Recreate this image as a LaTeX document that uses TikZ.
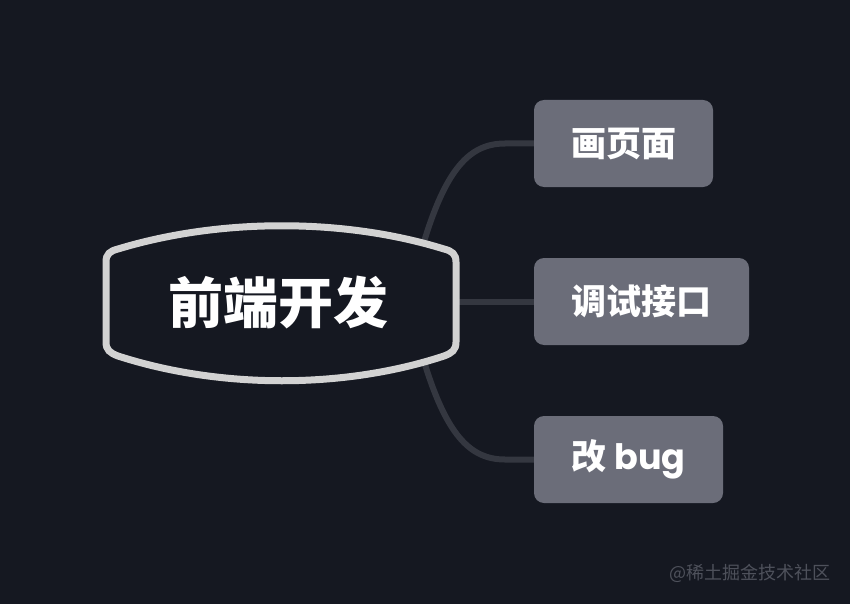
\documentclass[tikz,border=0pt]{standalone}
\usepackage{fontspec}
\newfontfamily\cjk{Noto Sans CJK SC}
\newfontfamily\pop{Poppins}
\definecolor{bg}{HTML}{151821}
\definecolor{boxfill}{HTML}{6B6D79}
\definecolor{conn}{HTML}{343740}
\definecolor{rim}{HTML}{D2D2D2}
\definecolor{wm}{HTML}{4E515B}
\tikzset{
  child/.style={fill=boxfill, rounded corners=10pt, minimum height=87pt, inner sep=0pt,
    text=white, font=\cjk\bfseries\fontsize{35}{40}\selectfont},
  link/.style={draw=conn, line width=6pt},
}
\begin{document}
\begin{tikzpicture}[x=1pt,y=-1pt]
\useasboundingbox (0,0) rectangle (850,604);
\fill[bg] (0,0) rectangle (850,604);
% child nodes
\node[child, minimum width=179pt] (b1) at (623.5,143.5) {画页面};
\node[child, minimum width=215pt] (b2) at (641.5,301.5) {调试接口};
\node[child, minimum width=189pt] (b3) at (628.5,459.5) {改 {\pop\bfseries bug}};
% connectors
\coordinate (t1) at (423,245);
\coordinate (t2) at (440,301.5);
\coordinate (t3) at (423,358);
\draw[link] (t1) .. controls (446,168) and (470,143.5) .. (505,143.5) -- (b1.west);
\draw[link] (t2) -- (b2.west);
\draw[link] (t3) .. controls (446,435) and (470,459.5) .. (505,459.5) -- (b3.west);
% root shape
\draw[rim, fill=bg, line width=7pt]
  (106,262) .. controls (106,254) and (110,251) .. (118,249)
  .. controls (220,218) and (344,218) .. (444,249)
  .. controls (452,251) and (456,254) .. (456,262)
  -- (456,342)
  .. controls (456,350) and (452,353) .. (444,356)
  .. controls (344,389) and (220,389) .. (118,356)
  .. controls (110,353) and (106,350) .. (106,342) -- cycle;
\node[text=white, font=\cjk\bfseries\fontsize{55}{60}\selectfont, inner sep=0pt] (root) at (278,302) {前端开发};
% watermark
\node[text=wm, font=\cjk\fontsize{18}{20}\selectfont, inner sep=0pt, anchor=east] (wmk) at (831,573) {@稀土掘金技术社区};
\end{tikzpicture}
\end{document}
